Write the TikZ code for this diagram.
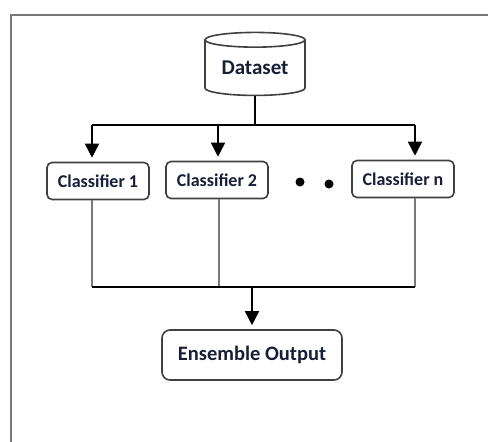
\documentclass[tikz,border=0pt]{standalone}
\usepackage{fontspec}
\setmainfont{Carlito}
\usetikzlibrary{arrows.meta, positioning, shapes.geometric}
\definecolor{lgray}{RGB}{64,64,64}
\definecolor{fgray}{RGB}{120,120,120}
\definecolor{ink}{RGB}{25,30,55}

\begin{document}
\begin{tikzpicture}[x=1pt,y=-1pt,
  box/.style={draw=lgray,line width=1.6pt,rounded corners=5pt,fill=white,
              font=\fontsize{18}{20}\selectfont\bfseries,text=ink,
              minimum width=102pt,minimum height=37pt,inner sep=0pt},
  db/.style={cylinder,shape border rotate=90,aspect=0.22,draw=lgray,
             line width=1.6pt,fill=white,minimum width=100pt,minimum height=63pt,
             inner sep=0pt,font=\fontsize{21}{24}\selectfont\bfseries,text=ink},
  arr/.style={-{Triangle[width=14pt,length=14pt]},line width=1.6pt,shorten >=4pt},
  ln/.style={line width=1.6pt},
  cl/.style={fgray,line width=1.6pt},
  dot/.style={circle,fill,inner sep=0pt,minimum size=9pt}
]
\useasboundingbox (0,0) rectangle (488,442);
\draw[fgray,line width=2.5pt] (11,442) -- (11,15) -- (488,15);

\node[db] (data) at (255,68) {Dataset};
\node[box] (c1) at (98,181)  {Classifier 1};
\node[box] (c2) at (217,180) {Classifier 2};
\node[box] (cn) at (403,179) {Classifier n};
\node[dot] (d1) at (300,182) {};
\node[dot] (d2) at (329,184) {};
\node[box,minimum width=180pt,minimum height=50pt,rounded corners=8pt,
      font=\fontsize{20.5}{23}\selectfont\bfseries] (ens) at (252,355) {Ensemble Output};

% split
\coordinate (t1) at (92,125);  \coordinate (t2) at (218,125); \coordinate (tn) at (415,125);
\draw[ln] (data.south) -- (data.south |- t1);
\draw[ln] (t1) -- (tn);
\draw[arr] (t1) -- (t1 |- c1.north);
\draw[arr] (t2) -- (t2 |- c2.north);
\draw[arr] (tn) -- (tn |- cn.north);

% join
\coordinate (b1) at (92,287);  \coordinate (b2) at (219,287); \coordinate (bn) at (415,287);
\draw[cl] (b1 |- c1.south) -- (b1);
\draw[cl] (b2 |- c2.south) -- (b2);
\draw[cl] (bn |- cn.south) -- (bn);
\draw[ln] (b1) -- (bn);
\draw[arr] (b1 -| ens.north) -- (ens.north);
\end{tikzpicture}
\end{document}
